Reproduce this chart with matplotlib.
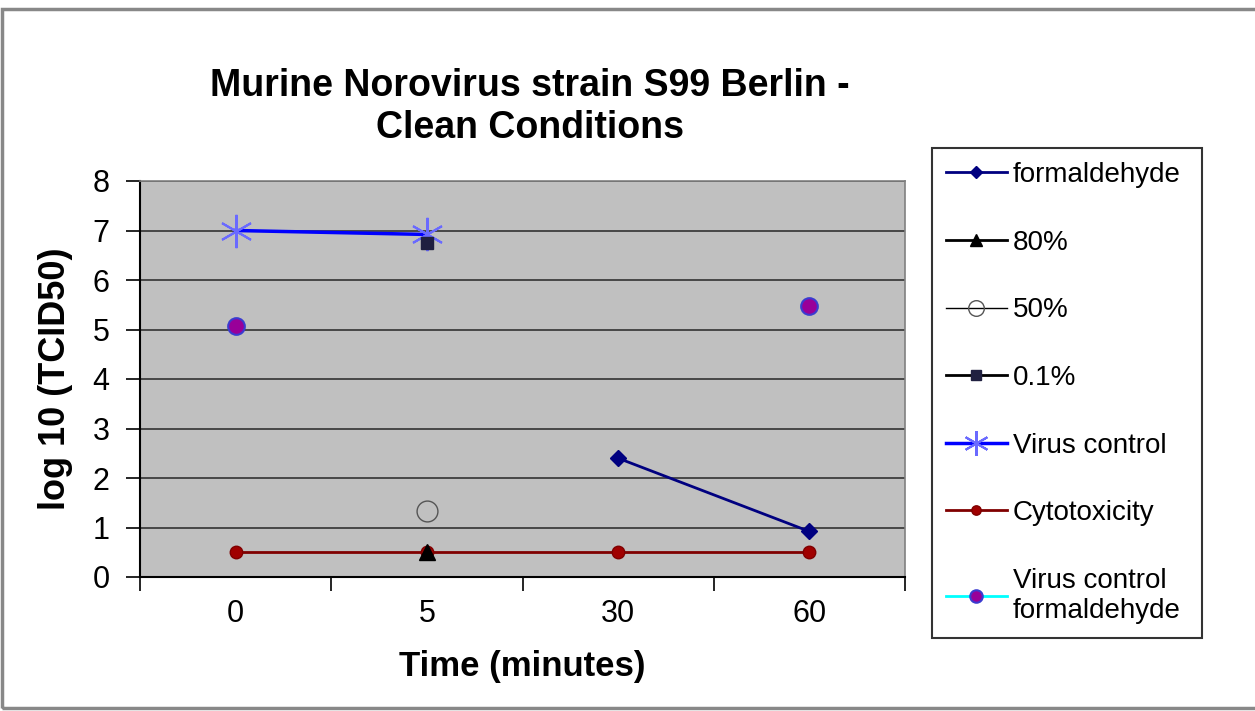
import matplotlib
matplotlib.use("Agg")
import matplotlib.pyplot as plt
import numpy as np
from matplotlib.patches import Rectangle

plt.rcParams['font.family'] = ['Liberation Sans', 'DejaVu Sans']

# categories (time in minutes)
times = ['0', '5', '30', '60']

# series, log10 TCID50 (nan = no value)
formaldehyde = [np.nan, np.nan, 2.4, 0.92]
conc_80 = [np.nan, 0.5, np.nan, np.nan]
conc_50 = [np.nan, 1.33, np.nan, np.nan]
conc_01 = [np.nan, 6.75, np.nan, np.nan]
virus_control = [7.0, 6.92, np.nan, np.nan]
cytotoxicity = [0.5, 0.5, 0.5, 0.5]
virus_control_form = [5.08, np.nan, np.nan, 5.48]

fig = plt.figure(figsize=(12.55, 7.11), dpi=100)
ax = fig.add_axes([140 / 1255, 1 - 577 / 711, 765 / 1255, 396 / 711])
ax.set_facecolor('#c0c0c0')

x = np.arange(len(times))

ax.plot(x, cytotoxicity, color='#800000', lw=2, marker='o', ms=9,
        mfc='#a00000', mec='#800000', label='Cytotoxicity', zorder=3)
ax.plot(x, formaldehyde, color='#000080', lw=2, marker='D', ms=8,
        mfc='#000080', mec='#000080', label='formaldehyde', zorder=4)
ax.plot(x, conc_80, color='black', lw=2, marker='^', ms=12,
        mfc='black', mec='black', label='80%', zorder=4)
ax.plot(x, conc_50, color='black', lw=1, marker='o', ms=15,
        mfc='none', mec='#555555', label='50%', zorder=4)
ax.plot(x, conc_01, color='black', lw=2, marker='s', ms=9,
        mfc='#202040', mec='#202040', label='0.1%', zorder=5)
ax.plot(x, virus_control, color='#0000ff', lw=2.5, marker=(6, 2, 0), ms=24,
        mec='#6a6aff', mew=1.5, label='Virus control', zorder=4)
ax.plot(x, virus_control_form, color='#00ffff', lw=2, marker='o', ms=12,
        mfc='#990099', mec='#3b3bd0', mew=1.5, label='Virus control\nformaldehyde', zorder=4)

ax.set_xlim(-0.5, 3.5)
ax.set_ylim(0, 8)
ax.set_yticks(range(0, 9))
ax.yaxis.grid(True, color='#333333', lw=1.2)
ax.set_axisbelow(True)

ax.set_xticks(x)
ax.set_xticklabels(times)
ax.set_xticks(np.arange(-0.5, 4, 1), minor=True)
ax.tick_params(axis='x', which='major', length=0, pad=16, labelsize=22)
ax.tick_params(axis='x', which='minor', length=10, width=1.2, color='black')
ax.tick_params(axis='y', length=10, width=1.2, pad=12, labelsize=22)

for s in ['left', 'bottom']:
    ax.spines[s].set_color('black')
    ax.spines[s].set_linewidth(1.5)
for s in ['top', 'right']:
    ax.spines[s].set_color('#808080')
    ax.spines[s].set_linewidth(1.2)

ax.set_xlabel('Time (minutes)', fontsize=25, fontweight='bold', labelpad=15)
ax.set_ylabel('log 10 (TCID50)', fontsize=26, fontweight='bold', labelpad=14)

fig.text(530 / 1255, 1 - 107 / 711, 'Murine Norovirus strain S99 Berlin -\nClean Conditions',
         ha='center', va='center', fontsize=27, fontweight='bold', linespacing=1.2)

# legend in Excel order
handles, labels = ax.get_legend_handles_labels()
order = [1, 2, 3, 4, 5, 0, 6]
leg = fig.legend([handles[i] for i in order], [labels[i] for i in order],
                 loc='upper left', bbox_to_anchor=(932 / 1255, 1 - 148 / 711 - 0.1, 270 / 1255, 0.1),
                 mode='expand', fontsize=20, frameon=True, fancybox=False,
                 edgecolor='black', handlelength=2.2, handletextpad=0.2,
                 labelspacing=1.5, borderpad=0.5, borderaxespad=0, markerscale=0.75)
leg.get_frame().set_linewidth(1.5)

# outer chart border
fig.patches.append(Rectangle((2 / 1255, 1 - 708 / 711), 1.1, 699 / 711, transform=fig.transFigure,
                             fill=False, edgecolor='#888888', lw=2.5))

fig.savefig('out.png', dpi=100, facecolor='white')
